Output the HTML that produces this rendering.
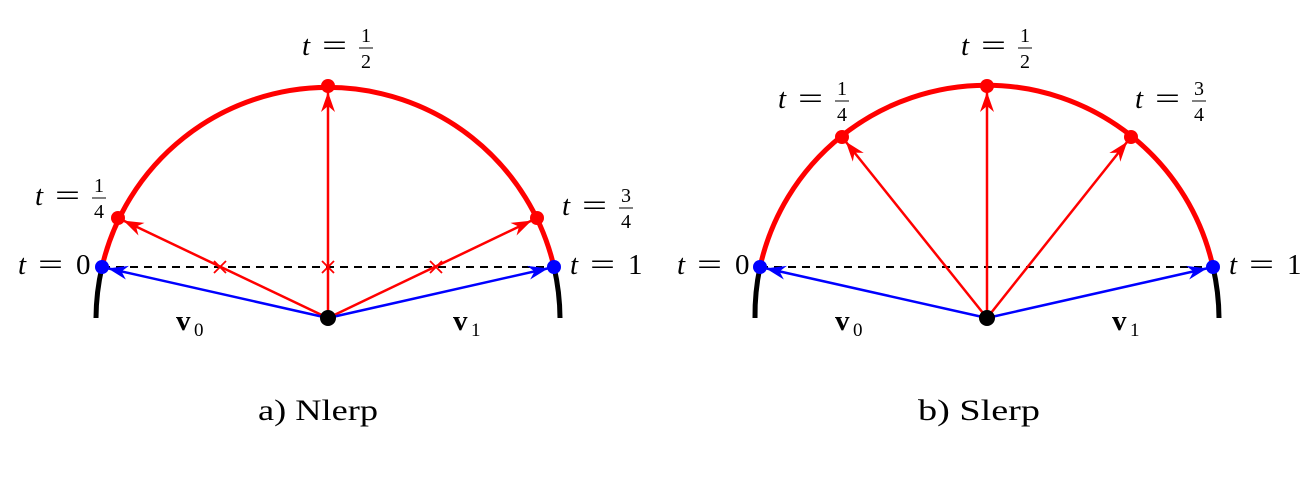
<!DOCTYPE html>
<html><head><meta charset="utf-8"><style>
html,body{margin:0;padding:0;background:#fff;}
svg{display:block;}
text{font-family:"Liberation Serif",serif;fill:#000;}
.t{font-style:italic;font-size:29px;}
.e{font-size:30px;}
.n{font-size:29px;}
.f{font-size:20px;text-anchor:middle;}
</style></head><body>
<svg width="1306" height="484" viewBox="0 0 1306 484" xmlns="http://www.w3.org/2000/svg">
<defs>
<marker id="ar" viewBox="0 0 20 14" markerWidth="20" markerHeight="14" refX="26" refY="7" orient="auto" markerUnits="userSpaceOnUse" overflow="visible">
<path d="M0,0 L20,7 L0,14 L6,7 z" fill="#f00"/></marker>
<marker id="ab" viewBox="0 0 20 14" markerWidth="20" markerHeight="14" refX="26" refY="7" orient="auto" markerUnits="userSpaceOnUse" overflow="visible">
<path d="M0,0 L20,7 L0,14 L6,7 z" fill="#00f"/></marker>
</defs>

<!-- LEFT -->
<path d="M96,318 A232,232 0 0 1 102,267" stroke="#000" stroke-width="5" fill="none"/>
<path d="M560,318 A232,232 0 0 0 554,267" stroke="#000" stroke-width="5" fill="none"/>
<path d="M102,267 A232,232 0 0 1 554,267" stroke="#f00" stroke-width="5" fill="none"/>
<line x1="102" y1="267" x2="554" y2="267" stroke="#000" stroke-width="2" stroke-dasharray="8,6"/>
<g stroke="#f00" stroke-width="2.5" fill="none">
<line x1="328" y1="318" x2="118" y2="218" marker-end="url(#ar)"/>
<line x1="328" y1="318" x2="328" y2="86" marker-end="url(#ar)"/>
<line x1="328" y1="318" x2="537" y2="218" marker-end="url(#ar)"/>
<path d="M214,261 l12,12 M226,261 l-12,12 M322,261 l12,12 M334,261 l-12,12 M430,261 l12,12 M442,261 l-12,12" stroke-width="1.8"/>
</g>
<g stroke="#00f" stroke-width="2.5">
<line x1="328" y1="318" x2="102" y2="267" marker-end="url(#ab)"/>
<line x1="328" y1="318" x2="554" y2="267" marker-end="url(#ab)"/>
</g>
<circle cx="118" cy="218" r="7" fill="#f00"/>
<circle cx="328" cy="86" r="7" fill="#f00"/>
<circle cx="537" cy="218" r="7" fill="#f00"/>
<circle cx="102" cy="267" r="7" fill="#00f"/>
<circle cx="554" cy="267" r="7" fill="#00f"/>
<circle cx="328" cy="318" r="8" fill="#000"/>

<g transform="translate(18,274)"><text class="t">t</text><text class="e" x="20" textLength="25" lengthAdjust="spacingAndGlyphs">=</text><text class="n" x="58">0</text></g>
<g transform="translate(570,274)"><text class="t">t</text><text class="e" x="20" textLength="25" lengthAdjust="spacingAndGlyphs">=</text><text class="n" x="58">1</text></g>
<g transform="translate(35,205)"><text class="t">t</text><text class="e" x="20" textLength="25" lengthAdjust="spacingAndGlyphs">=</text><text class="f" x="64" y="-13">1</text><line x1="57" y1="-7" x2="71" y2="-7" stroke="#000" stroke-width="1"/><text class="f" x="64" y="13">4</text></g>
<g transform="translate(562,215)"><text class="t">t</text><text class="e" x="20" textLength="25" lengthAdjust="spacingAndGlyphs">=</text><text class="f" x="64" y="-13">3</text><line x1="57" y1="-7" x2="71" y2="-7" stroke="#000" stroke-width="1"/><text class="f" x="64" y="13">4</text></g>
<g transform="translate(302,55)"><text class="t">t</text><text class="e" x="20" textLength="25" lengthAdjust="spacingAndGlyphs">=</text><text class="f" x="64" y="-13">1</text><line x1="57" y1="-7" x2="71" y2="-7" stroke="#000" stroke-width="1"/><text class="f" x="64" y="13">2</text></g>
<text x="176" y="330" font-size="29" font-weight="bold">v</text><text x="194" y="336" font-size="19">0</text>
<text x="453" y="330" font-size="29" font-weight="bold">v</text><text x="471" y="336" font-size="19">1</text>
<text x="258" y="420" font-size="30" textLength="120" lengthAdjust="spacingAndGlyphs">a) Nlerp</text>

<!-- RIGHT -->
<path d="M755,318 A232,232 0 0 1 760,267" stroke="#000" stroke-width="5" fill="none"/>
<path d="M1219,318 A232,232 0 0 0 1213,267" stroke="#000" stroke-width="5" fill="none"/>
<path d="M760,267 A232,232 0 0 1 1213,267" stroke="#f00" stroke-width="5" fill="none"/>
<line x1="760" y1="267" x2="1213" y2="267" stroke="#000" stroke-width="2" stroke-dasharray="8,6"/>
<g stroke="#f00" stroke-width="2.5">
<line x1="987" y1="318" x2="842" y2="137" marker-end="url(#ar)"/>
<line x1="987" y1="318" x2="987" y2="86" marker-end="url(#ar)"/>
<line x1="987" y1="318" x2="1131" y2="137" marker-end="url(#ar)"/>
</g>
<g stroke="#00f" stroke-width="2.5">
<line x1="987" y1="318" x2="760" y2="267" marker-end="url(#ab)"/>
<line x1="987" y1="318" x2="1213" y2="267" marker-end="url(#ab)"/>
</g>
<circle cx="842" cy="137" r="7" fill="#f00"/>
<circle cx="987" cy="86" r="7" fill="#f00"/>
<circle cx="1131" cy="137" r="7" fill="#f00"/>
<circle cx="760" cy="267" r="7" fill="#00f"/>
<circle cx="1213" cy="267" r="7" fill="#00f"/>
<circle cx="987" cy="318" r="8" fill="#000"/>

<g transform="translate(677,274)"><text class="t">t</text><text class="e" x="20" textLength="25" lengthAdjust="spacingAndGlyphs">=</text><text class="n" x="58">0</text></g>
<g transform="translate(1229,274)"><text class="t">t</text><text class="e" x="20" textLength="25" lengthAdjust="spacingAndGlyphs">=</text><text class="n" x="58">1</text></g>
<g transform="translate(778,108)"><text class="t">t</text><text class="e" x="20" textLength="25" lengthAdjust="spacingAndGlyphs">=</text><text class="f" x="64" y="-13">1</text><line x1="57" y1="-7" x2="71" y2="-7" stroke="#000" stroke-width="1"/><text class="f" x="64" y="13">4</text></g>
<g transform="translate(1135,108)"><text class="t">t</text><text class="e" x="20" textLength="25" lengthAdjust="spacingAndGlyphs">=</text><text class="f" x="64" y="-13">3</text><line x1="57" y1="-7" x2="71" y2="-7" stroke="#000" stroke-width="1"/><text class="f" x="64" y="13">4</text></g>
<g transform="translate(961,55)"><text class="t">t</text><text class="e" x="20" textLength="25" lengthAdjust="spacingAndGlyphs">=</text><text class="f" x="64" y="-13">1</text><line x1="57" y1="-7" x2="71" y2="-7" stroke="#000" stroke-width="1"/><text class="f" x="64" y="13">2</text></g>
<text x="835" y="330" font-size="29" font-weight="bold">v</text><text x="853" y="336" font-size="19">0</text>
<text x="1112" y="330" font-size="29" font-weight="bold">v</text><text x="1130" y="336" font-size="19">1</text>
<text x="918" y="420" font-size="30" textLength="122" lengthAdjust="spacingAndGlyphs">b) Slerp</text>
</svg>
</body></html>
